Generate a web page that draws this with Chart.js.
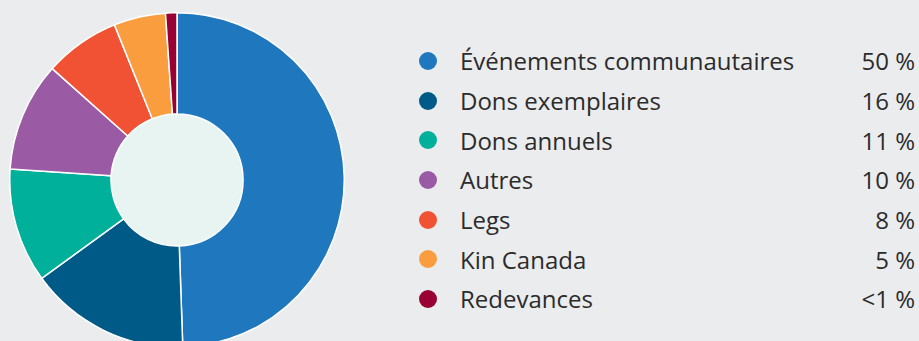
<!DOCTYPE html>
<html>
<head>
<meta charset="utf-8">
<script src="https://cdn.jsdelivr.net/npm/chart.js@4"></script>
<style>
  html, body { margin: 0; padding: 0; }
  body {
    width: 919px; height: 341px; overflow: hidden;
    background: #ebecee; position: relative;
    font-family: "Open Sans", sans-serif; color: #2b2b2b;
  }
  #wrap { position: absolute; left: 9px; top: 12px; width: 336px; height: 336px; }
  #legend { position: absolute; left: 418px; top: 41px; width: 497px; margin: 0; padding: 0; list-style: none; }
  #legend li { display: flex; align-items: center; height: 39.7px; font-size: 24px; }
  #legend .dot { width: 18px; height: 18px; border-radius: 50%; margin-left: 1px; margin-right: 23px; }
  #legend .name { flex: 1; }
  #legend .pct { text-align: right; }
</style>
</head>
<body>
<div id="wrap"><canvas id="myChart"></canvas></div>
<ul id="legend"></ul>
<script>
const labels = [
    'Événements communautaires',
    'Dons exemplaires',
    'Dons annuels',
    'Autres',
    'Legs',
    'Kin Canada',
    'Redevances',
];
const values = [49.45, 15.55, 11.05, 10.55, 7.3, 5, 1.1];
const shownPct = ['50 %', '16 %', '11 %', '10 %', '8 %', '5 %', '<1 %'];
const colors = ['#1f78bd', '#005a87', '#00b09b', '#9a5aa4', '#f05233', '#f99d3f', '#990033'];

const legend = document.getElementById('legend');
labels.forEach((l, i) => {
    const li = document.createElement('li');
    li.innerHTML = '<span class="dot" style="background:' + colors[i] + '"></span>' +
        '<span class="name">' + l + '</span><span class="pct">' + shownPct[i] + '</span>';
    legend.appendChild(li);
});

// fill the hole of the doughnut
const centerFill = {
    id: 'centerFill',
    beforeDatasetsDraw(chart) {
        const arc = chart.getDatasetMeta(0).data[0];
        if (!arc) return;
        const c = chart.ctx;
        c.save();
        c.beginPath();
        c.arc(arc.x, arc.y, arc.innerRadius, 0, Math.PI * 2);
        c.fillStyle = '#e8f4f2';
        c.fill();
        c.restore();
    }
};

const ctx = document.getElementById('myChart').getContext('2d');
new Chart(ctx, {
    type: 'doughnut',
    data: {
        labels,
        datasets: [{
            data: values,
            backgroundColor: colors,
            borderColor: '#ffffff',
            borderWidth: 1.5,
        }]
    },
    options: {
        responsive: true,
        maintainAspectRatio: false,
        animation: false,
        cutout: '39.5%',
        plugins: {
            legend: { display: false },
            tooltip: { enabled: false },
        }
    },
    plugins: [centerFill]
});
</script>
</body>
</html>
